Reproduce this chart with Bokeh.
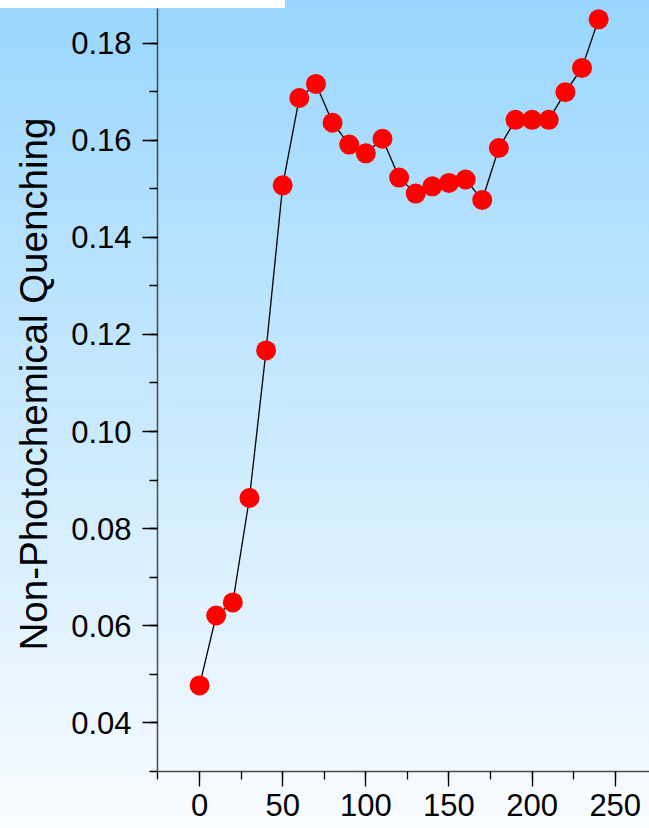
from bokeh.plotting import figure
from bokeh.models import SingleIntervalTicker, NumeralTickFormatter, Range1d, Title
from bokeh.embed import file_html
from bokeh.resources import INLINE

time = [0, 10, 20, 30, 40, 50, 60, 70, 80, 90, 100, 110, 120,
        130, 140, 150, 160, 170, 180, 190, 200, 210, 220, 230, 240]
npq = [0.0477, 0.0621, 0.0648, 0.0863, 0.1167, 0.1507, 0.1687, 0.1716,
       0.1636, 0.1591, 0.1573, 0.1603, 0.1523, 0.1490, 0.1505, 0.1512,
       0.1519, 0.1477, 0.1584, 0.1642, 0.1642, 0.1642, 0.1699, 0.1749,
       0.1849]
y_label = "Non-Photochemical Quenching"

FONT = "Liberation Sans"

p = figure(width=649, height=828, output_backend="svg", toolbar_location=None,
           x_range=Range1d(-25.3, 270.6), y_range=Range1d(0.02997, 0.18713),
           min_border_left=157, min_border_top=8, min_border_right=0,
           min_border_bottom=57,
           background_fill_color=None, border_fill_color=None,
           outline_line_color=None,
           styles={"background": "linear-gradient(#ffffff, #ffffff) 0 0 / 285px 8px no-repeat, "
                                 "linear-gradient(to bottom, #99d6fd 0%, #f9fcff 100%)"})

p.xgrid.visible = False
p.ygrid.visible = False

p.line(time, npq, line_color="black", line_width=1.3)
p.scatter(time, npq, size=20, fill_color="#ff0000", line_color=None)

for ax in (p.xaxis[0], p.yaxis[0]):
    ax.axis_line_color = "#4a4a4a"
    ax.axis_line_width = 1.5
    ax.major_tick_line_color = "black"
    ax.major_tick_line_width = 1.3
    ax.minor_tick_line_color = "black"
    ax.minor_tick_line_width = 1.3
    ax.major_tick_out = 15
    ax.major_tick_in = 0
    ax.minor_tick_out = 8
    ax.minor_tick_in = 0
    ax.major_label_text_font = FONT
    ax.major_label_text_font_size = "31px"
    ax.major_label_text_color = "black"

p.xaxis[0].ticker = SingleIntervalTicker(interval=50, num_minor_ticks=2)
p.xaxis[0].major_label_standoff = 7
p.yaxis[0].ticker = SingleIntervalTicker(interval=0.02, num_minor_ticks=2)
p.yaxis[0].formatter = NumeralTickFormatter(format="0.00")
p.yaxis[0].major_label_standoff = 11

p.add_layout(Title(text=y_label, align="left", offset=121,
                   vertical_align="top",
                   text_font=FONT, text_font_size="38.5px",
                   text_font_style="normal", text_color="black",
                   standoff=23), "left")

open("out.html", "w").write(file_html(p, INLINE))
